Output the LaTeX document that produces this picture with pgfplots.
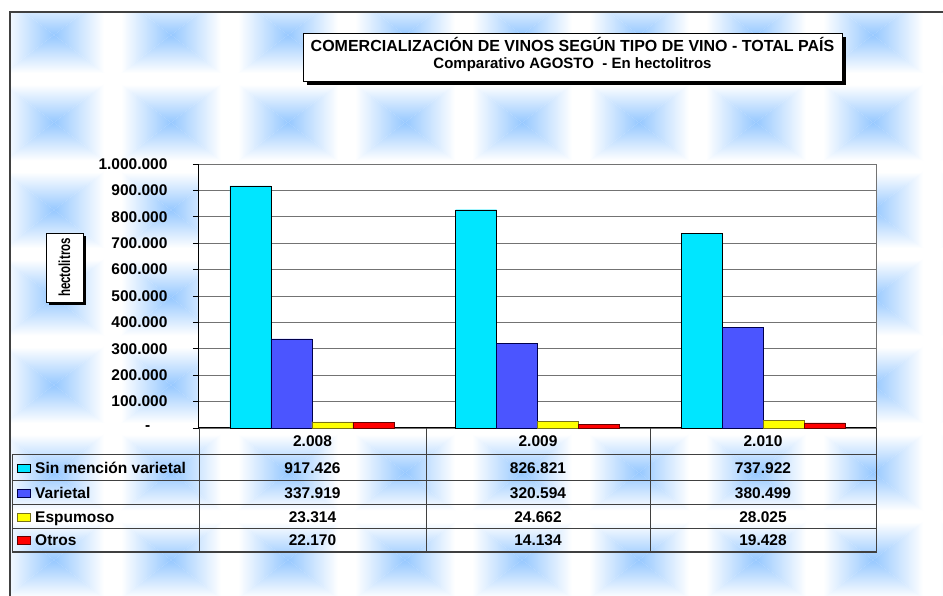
\documentclass[border=0pt]{standalone}
\usepackage{fontspec}
\setmainfont{Liberation Sans}
\usepackage{graphicx}
\usepackage{pgfplots}
\pgfplotsset{compat=1.18}

\definecolor{tile}{RGB}{150,200,255}
\definecolor{framegray}{RGB}{64,64,64}
\definecolor{cyanbar}{RGB}{0,230,255}
\definecolor{bluebar}{RGB}{75,85,255}
\definecolor{yellowbar}{RGB}{255,255,0}
\definecolor{redbar}{RGB}{255,0,0}

\newcommand{\tabfont}{\bfseries\fontsize{15.5}{15.5}\selectfont}

\begin{document}
\begin{tikzpicture}[x=1pt,y=1pt]
\useasboundingbox (0,0) rectangle (943,596);
\fill[white] (0,0) rectangle (943,596);

% tiled blue background: each tile fades from its centre outwards
\begin{scope}
\clip (10,0) rectangle (943,584);
\foreach \i in {-1,...,8} {
  \foreach \j in {-1,...,7} {
    \pgfmathsetmacro{\cx}{54+117*\i}
    \pgfmathsetmacro{\cy}{561-87.5*\j}
    \shade[top color=white, bottom color=tile] (\cx,\cy) -- ({\cx-50},{\cy+38}) -- ({\cx+50},{\cy+38}) -- cycle;
    \shade[top color=tile, bottom color=white] (\cx,\cy) -- ({\cx-50},{\cy-38}) -- ({\cx+50},{\cy-38}) -- cycle;
    \shade[left color=white, right color=tile] (\cx,\cy) -- ({\cx-50},{\cy+38}) -- ({\cx-50},{\cy-38}) -- cycle;
    \shade[left color=tile, right color=white] (\cx,\cy) -- ({\cx+50},{\cy+38}) -- ({\cx+50},{\cy-38}) -- cycle;
  }
}
\end{scope}
\draw[framegray, line width=1.5pt] (10,0) -- (10,584) -- (943,584);

% title box
\fill[black] (307,511) rectangle (846,559);
\draw[black, fill=white, line width=0.8pt] (303,515) rectangle (842,563);
\node[font=\bfseries\fontsize{16}{16}\selectfont, anchor=base, inner sep=0pt] at (572.5,544.5) {COMERCIALIZACIÓN DE VINOS SEGÚN TIPO DE VINO - TOTAL PAÍS};
\node[font=\bfseries\fontsize{15}{15}\selectfont, anchor=base, inner sep=0pt] at (572.5,527.5) {Comparativo AGOSTO\ \ - En hectolitros};

% y label box
\fill[black] (49,291) rectangle (86,360);
\draw[black, fill=white, line width=0.8pt] (46,294) rectangle (83,363);
\node[rotate=90] at (64.5,328.5) {\scalebox{0.72}[1]{\bfseries\fontsize{16}{16}\selectfont hectolitros}};

\begin{axis}[
  at={(199pt,168pt)}, anchor=south west,
  scale only axis, width=677pt, height=264pt,
  xmin=0.5, xmax=3.5, ymin=0, ymax=1000000,
  ybar=0pt, bar width=41pt,
  xtick=\empty,
  ytick={0,100000,200000,300000,400000,500000,600000,700000,800000,900000,1000000},
  yticklabels={-\hphantom{00},100.000,200.000,300.000,400.000,500.000,600.000,700.000,800.000,900.000,1.000.000},
  scaled y ticks=false,
  axis x line*=bottom, axis y line*=left,
  axis line style={black, line width=1pt, -},
  tick align=outside, major tick length=6pt,
  ytick style={black, line width=0.8pt},
  ymajorgrids, grid style={black!55, line width=0.9pt},
  axis background/.style={fill=white},
  yticklabel style={font=\tabfont, anchor=east, xshift=-22pt},
  clip=false,
]
\addplot[fill=cyanbar, draw=black] coordinates {(1,917426) (2,826821) (3,737922)};
\addplot[fill=bluebar, draw=blue!30!black] coordinates {(1,337919) (2,320594) (3,380499)};
\addplot[fill=yellowbar, draw=olive!80!black] coordinates {(1,23314) (2,24662) (3,28025)};
\addplot[fill=redbar, draw=red!40!black] coordinates {(1,22170) (2,14134) (3,19428)};
\draw[black!55, line width=0.9pt] (rel axis cs:1,0) -- (rel axis cs:1,1);
\end{axis}

% data table
\begin{scope}[framegray, line width=1pt]
\draw (12,141) -- (876,141);
\draw (12,115) -- (876,115);
\draw (12,91) -- (876,91);
\draw (12,67) -- (876,67);
\draw (12,141) -- (12,44);
\draw (199,168) -- (199,44);
\draw (426,168) -- (426,44);
\draw (650,168) -- (650,44);
\draw[line width=1.6pt] (12,44) -- (876.5,44) -- (876.5,168);
\end{scope}

\tikzset{cell/.style={font=\tabfont, anchor=base, inner sep=0pt}}
\foreach \x/\t in {312.5/2.008, 538/2.009, 763/2.010}
  \node[cell] at (\x,149) {\t};

\fill[cyanbar, draw=black] (17,124) rectangle (30,132);
\fill[bluebar, draw=blue!30!black] (17,99) rectangle (30,107);
\fill[yellowbar, draw=olive!80!black] (17,75) rectangle (30,83);
\fill[redbar, draw=red!40!black] (17,51.5) rectangle (30,59.5);
\node[cell, anchor=base west] at (35,122.5) {Sin mención varietal};
\node[cell, anchor=base west] at (35,97.5) {Varietal};
\node[cell, anchor=base west] at (35,73.5) {Espumoso};
\node[cell, anchor=base west] at (35,50) {Otros};

\foreach \x/\a/\b/\c/\d in {312.5/917.426/337.919/23.314/22.170, 538/826.821/320.594/24.662/14.134, 763/737.922/380.499/28.025/19.428} {
  \node[cell] at (\x,122.5) {\a};
  \node[cell] at (\x,97.5) {\b};
  \node[cell] at (\x,73.5) {\c};
  \node[cell] at (\x,50) {\d};
}
\end{tikzpicture}
\end{document}
